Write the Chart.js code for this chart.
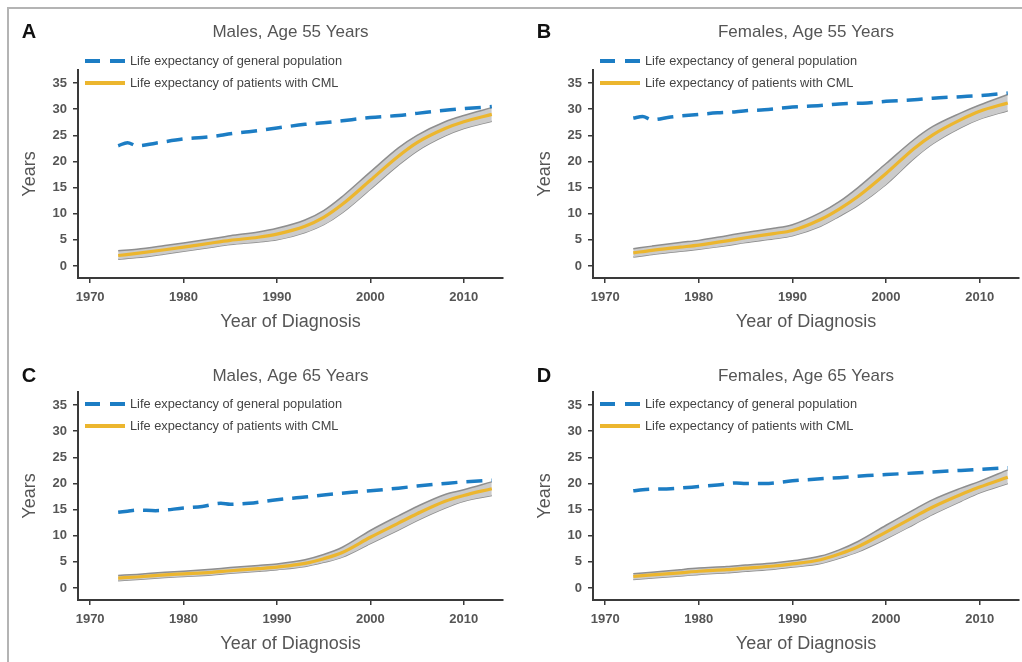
<!DOCTYPE html>
<html>
<head>
<meta charset="utf-8">
<script src="https://cdn.jsdelivr.net/npm/chart.js"></script>
<style>
  html, body { margin: 0; padding: 0; background: #fff; }
  #wrap { position: relative; width: 1022px; height: 662px; overflow: hidden; }
  #frame { position: absolute; left: 7px; top: 7px; right: -4px; bottom: -4px;
           border-top: 2px solid #b4b4b4; border-left: 2px solid #b4b4b4; }
  canvas { position: absolute; left: 0; top: 0; }
</style>
</head>
<body>
<div id="wrap">
  <div id="frame"></div>
  <canvas id="cA" width="1022" height="662"></canvas>
  <canvas id="cB" width="1022" height="662"></canvas>
  <canvas id="cC" width="1022" height="662"></canvas>
  <canvas id="cD" width="1022" height="662"></canvas>
</div>
<script>
// ---- data ----
const genYears = [1973, 1974, 1975, 1977, 1980, 1982, 1984, 1985, 1987, 1990, 1993, 1995, 1998, 2000, 2003, 2005, 2008, 2010, 2013];
const cmlYears = [1973, 1975, 1978, 1980, 1983, 1985, 1988, 1990, 1993, 1995, 1997, 2000, 2003, 2005, 2008, 2010, 2013];

// general population (blue dashed)
const genA = [23.0, 23.6, 23.0, 23.5, 24.3, 24.6, 25.0, 25.3, 25.7, 26.4, 27.1, 27.4, 28.0, 28.4, 28.8, 29.2, 29.8, 30.1, 30.5];
const genB = [28.3, 28.6, 28.0, 28.5, 29.0, 29.3, 29.5, 29.7, 29.9, 30.4, 30.7, 31.0, 31.2, 31.5, 31.8, 32.1, 32.4, 32.6, 33.1];
const genC = [14.5, 14.7, 14.9, 14.8, 15.3, 15.6, 16.2, 16.0, 16.2, 16.9, 17.4, 17.8, 18.3, 18.6, 19.1, 19.5, 20.0, 20.3, 20.6];
const genD = [18.6, 18.8, 18.9, 19.0, 19.4, 19.7, 20.1, 20.0, 20.0, 20.5, 20.9, 21.1, 21.5, 21.7, 22.0, 22.2, 22.5, 22.7, 23.0];

// patients with CML (yellow) and its grey band
const cmlA = [2.0, 2.4, 3.1, 3.6, 4.4, 4.9, 5.5, 6.1, 7.6, 9.3, 11.8, 16.4, 21.0, 23.6, 26.3, 27.6, 29.0];
const hiA  = [2.9, 3.2, 3.9, 4.4, 5.2, 5.8, 6.5, 7.2, 8.8, 10.6, 13.3, 18.0, 22.6, 25.0, 27.6, 28.8, 30.3];
const loA  = [1.3, 1.6, 2.3, 2.8, 3.6, 4.1, 4.6, 5.0, 6.4, 7.9, 10.2, 14.7, 19.3, 22.0, 24.9, 26.3, 27.7];

const cmlB = [2.5, 3.0, 3.6, 4.0, 4.8, 5.4, 6.2, 6.8, 8.9, 10.9, 13.3, 17.7, 22.5, 25.1, 28.0, 29.6, 31.2];
const hiB  = [3.3, 3.8, 4.5, 4.9, 5.8, 6.4, 7.2, 7.9, 10.2, 12.3, 15.0, 19.6, 24.2, 26.7, 29.3, 30.8, 32.8];
const loB  = [1.7, 2.2, 2.8, 3.2, 3.9, 4.5, 5.2, 5.8, 7.6, 9.5, 11.6, 15.6, 20.6, 23.4, 26.5, 28.1, 29.7];

const cmlC = [1.9, 2.1, 2.5, 2.7, 3.0, 3.3, 3.7, 4.0, 4.7, 5.6, 6.8, 9.7, 12.4, 14.2, 16.6, 17.7, 19.0];
const hiC  = [2.4, 2.6, 3.0, 3.2, 3.6, 3.9, 4.3, 4.6, 5.4, 6.4, 7.8, 11.0, 13.8, 15.6, 17.9, 18.8, 20.3];
const loC  = [1.4, 1.6, 2.0, 2.2, 2.5, 2.8, 3.2, 3.5, 4.1, 4.9, 5.9, 8.5, 11.1, 12.9, 15.3, 16.6, 17.7];

const cmlD = [2.2, 2.5, 2.9, 3.2, 3.5, 3.8, 4.2, 4.6, 5.4, 6.5, 7.9, 10.7, 13.6, 15.5, 17.9, 19.3, 21.2];
const hiD  = [2.7, 3.0, 3.5, 3.8, 4.1, 4.4, 4.8, 5.2, 6.1, 7.3, 8.9, 12.0, 15.0, 16.9, 19.1, 20.4, 22.6];
const loD  = [1.6, 1.9, 2.3, 2.6, 2.9, 3.2, 3.6, 4.0, 4.7, 5.7, 6.9, 9.4, 12.2, 14.1, 16.6, 18.2, 20.0];

const xTicks = [1970, 1980, 1990, 2000, 2010];
const yTicks = [0, 5, 10, 15, 20, 25, 30, 35];
const legendLabels = ['Life expectancy of general population', 'Life expectancy of patients with CML'];

const BLUE = '#1c7dc4';
const YELLOW = '#ecb62e';
const BAND = '#cbcbcb';
const BAND_EDGE = '#8e8e8e';
const AXIS = '#3a3a3a';
const TEXT = '#555';
const FONT = "'Liberation Sans', Arial, sans-serif";

function pts(xs, ys) {
  return xs.map((x, i) => ({ x: x, y: ys[i] }));
}

// letter, title and legend drawn around the chart area
const panelDecor = {
  id: 'panelDecor',
  afterDraw(chart, args, opts) {
    const ctx = chart.ctx;
    const a = chart.chartArea;
    ctx.save();
    ctx.textBaseline = 'middle';
    ctx.fillStyle = '#111';
    ctx.font = 'bold 20px ' + FONT;
    ctx.textAlign = 'center';
    ctx.fillText(opts.letter, a.left - 49, opts.titleY);

    ctx.fillStyle = TEXT;
    ctx.font = '17px ' + FONT;
    ctx.fillText(opts.title, (a.left + a.right) / 2, opts.titleY);

    ctx.textAlign = 'left';
    ctx.font = '12.8px ' + FONT;
    const x0 = a.left + 7, x1 = a.left + 47;
    for (let i = 0; i < 2; i++) {
      const y = opts.legendY + i * 22;
      ctx.beginPath();
      ctx.lineWidth = 4;
      ctx.strokeStyle = i === 0 ? BLUE : YELLOW;
      ctx.setLineDash(i === 0 ? [15, 10] : []);
      ctx.moveTo(x0, y);
      ctx.lineTo(x1, y);
      ctx.stroke();
      ctx.setLineDash([]);
      ctx.fillStyle = '#444';
      ctx.fillText(legendLabels[i], x1 + 5, y);
    }
    ctx.restore();
  }
};

function makePanel(id, cfg) {
  new Chart(document.getElementById(id), {
    type: 'line',
    data: {
      datasets: [
        { data: pts(genYears, cfg.gen), borderColor: BLUE, borderWidth: 3.5, borderDash: [16, 9],
          pointRadius: 0, cubicInterpolationMode: 'monotone', fill: false },
        { data: pts(cmlYears, cfg.cml), borderColor: YELLOW, borderWidth: 3.2,
          pointRadius: 0, cubicInterpolationMode: 'monotone', fill: false },
        { data: pts(cmlYears, cfg.hi), borderColor: BAND_EDGE, borderWidth: 1.5, backgroundColor: BAND,
          pointRadius: 0, cubicInterpolationMode: 'monotone', fill: '+1' },
        { data: pts(cmlYears, cfg.lo), borderColor: BAND_EDGE, borderWidth: 1.5,
          pointRadius: 0, cubicInterpolationMode: 'monotone', fill: false }
      ]
    },
    options: {
      responsive: false,
      animation: false,
      devicePixelRatio: 1,
      layout: { padding: cfg.padding },
      plugins: {
        legend: { display: false },
        tooltip: { enabled: false },
        panelDecor: { letter: cfg.letter, title: cfg.title, titleY: cfg.titleY, legendY: cfg.legendY }
      },
      scales: {
        x: {
          type: 'linear',
          min: 1968.7,
          max: 2014.2,
          afterBuildTicks: s => { s.ticks = xTicks.map(v => ({ value: v })); },
          afterFit: s => { s.height = 60; },
          border: { display: true, color: AXIS, width: 2 },
          grid: { drawOnChartArea: false, drawTicks: true, tickLength: 5, color: AXIS, lineWidth: 1.5 },
          ticks: { padding: 7, color: TEXT, font: { family: FONT, size: 13, weight: 'bold' },
                   callback: v => String(v) },
          title: { display: true, text: 'Year of Diagnosis', color: TEXT,
                   font: { family: FONT, size: 18 }, padding: { top: 0, bottom: 5.5 } }
        },
        y: {
          min: -2.3,
          max: 37.5,
          afterBuildTicks: s => { s.ticks = yTicks.map(v => ({ value: v })); },
          afterFit: s => { s.width = 70; },
          border: { display: true, color: AXIS, width: 2 },
          grid: { drawOnChartArea: false, drawTicks: true, tickLength: 5, color: AXIS, lineWidth: 1.5 },
          ticks: { padding: 6, color: TEXT, font: { family: FONT, size: 13, weight: 'bold' },
                   callback: v => String(v) },
          title: { display: true, text: 'Years', color: TEXT,
                   font: { family: FONT, size: 18 }, padding: { top: 11.5, bottom: 0 } }
        }
      }
    },
    plugins: [panelDecor]
  });
}

makePanel('cA', { letter: 'A', title: 'Males, Age 55 Years', titleY: 32, legendY: 61,
  gen: genA, cml: cmlA, hi: hiA, lo: loA,
  padding: { left: 8, top: 70, right: 519, bottom: 324 } });
makePanel('cB', { letter: 'B', title: 'Females, Age 55 Years', titleY: 32, legendY: 61,
  gen: genB, cml: cmlB, hi: hiB, lo: loB,
  padding: { left: 523, top: 70, right: 3, bottom: 324 } });
makePanel('cC', { letter: 'C', title: 'Males, Age 65 Years', titleY: 376, legendY: 404,
  gen: genC, cml: cmlC, hi: hiC, lo: loC,
  padding: { left: 8, top: 392, right: 519, bottom: 2 } });
makePanel('cD', { letter: 'D', title: 'Females, Age 65 Years', titleY: 376, legendY: 404,
  gen: genD, cml: cmlD, hi: hiD, lo: loD,
  padding: { left: 523, top: 392, right: 3, bottom: 2 } });
</script>
</body>
</html>
